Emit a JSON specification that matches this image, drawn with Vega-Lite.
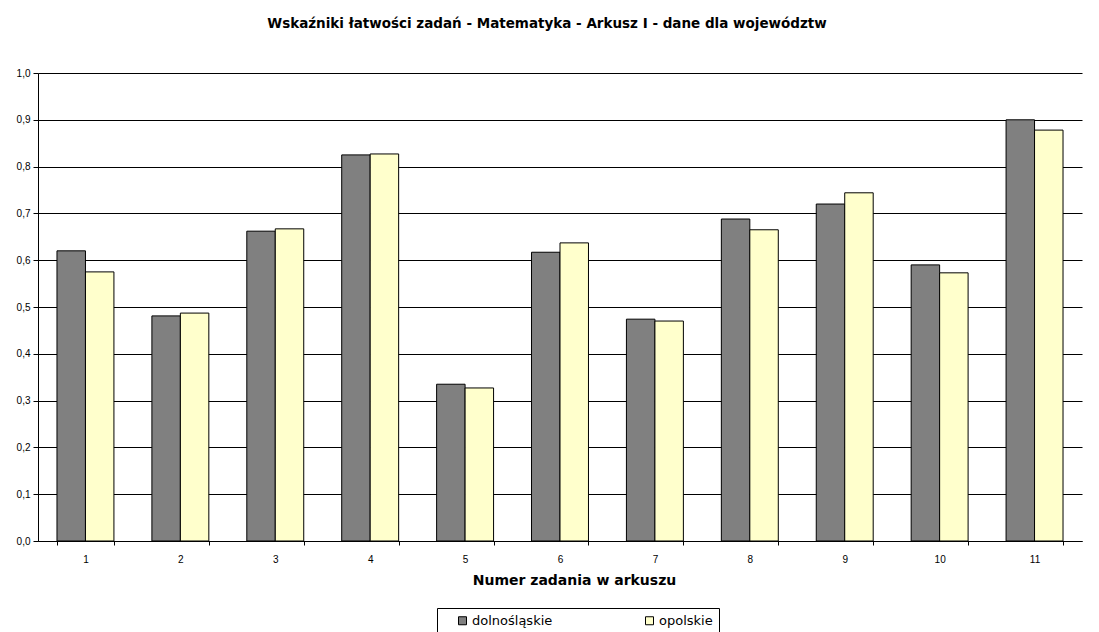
{
  "$schema": "https://vega.github.io/schema/vega-lite/v6.json",
  "autosize": {"type": "none"},
  "padding": {"left": 38, "top": 73, "right": 17, "bottom": 91},
  "width": 1044,
  "height": 468,
  "background": "white",
  "title": {
    "text": "Wskaźniki łatwości zadań - Matematyka - Arkusz I - dane dla województw",
    "font": "DejaVu Sans",
    "fontSize": 13.5,
    "fontWeight": "bold",
    "color": "black",
    "anchor": "middle",
    "dx": -13,
    "offset": 38
  },
  "data": {
    "values": [
      {"zadanie": "1", "woj": "dolnośląskie", "v": 0.620},
      {"zadanie": "1", "woj": "opolskie", "v": 0.575},
      {"zadanie": "2", "woj": "dolnośląskie", "v": 0.481},
      {"zadanie": "2", "woj": "opolskie", "v": 0.487},
      {"zadanie": "3", "woj": "dolnośląskie", "v": 0.662},
      {"zadanie": "3", "woj": "opolskie", "v": 0.667},
      {"zadanie": "4", "woj": "dolnośląskie", "v": 0.825},
      {"zadanie": "4", "woj": "opolskie", "v": 0.827},
      {"zadanie": "5", "woj": "dolnośląskie", "v": 0.335},
      {"zadanie": "5", "woj": "opolskie", "v": 0.327},
      {"zadanie": "6", "woj": "dolnośląskie", "v": 0.617},
      {"zadanie": "6", "woj": "opolskie", "v": 0.637},
      {"zadanie": "7", "woj": "dolnośląskie", "v": 0.474},
      {"zadanie": "7", "woj": "opolskie", "v": 0.470},
      {"zadanie": "8", "woj": "dolnośląskie", "v": 0.688},
      {"zadanie": "8", "woj": "opolskie", "v": 0.665},
      {"zadanie": "9", "woj": "dolnośląskie", "v": 0.720},
      {"zadanie": "9", "woj": "opolskie", "v": 0.744},
      {"zadanie": "10", "woj": "dolnośląskie", "v": 0.590},
      {"zadanie": "10", "woj": "opolskie", "v": 0.573},
      {"zadanie": "11", "woj": "dolnośląskie", "v": 0.900},
      {"zadanie": "11", "woj": "opolskie", "v": 0.878}
    ]
  },
  "mark": {"type": "bar", "stroke": "black", "strokeWidth": 1},
  "encoding": {
    "x": {
      "field": "zadanie",
      "type": "ordinal",
      "sort": ["1","2","3","4","5","6","7","8","9","10","11"],
      "scale": {"paddingInner": 0.4, "paddingOuter": 0.2},
      "axis": {
        "title": "Numer zadania w arkuszu",
        "titleFont": "DejaVu Sans",
        "titleFontSize": 14,
        "titleFontWeight": "bold",
        "titleColor": "black",
        "titlePadding": 9,
        "titleX": 536,
        "titleAlign": "center",
        "labelAngle": 0,
        "labelFont": "Liberation Sans",
        "labelFontSize": 10,
        "labelColor": "black",
        "labelPadding": 9,
        "tickBand": "extent",
        "tickColor": "black",
        "tickSize": 4,
        "domainColor": "black",
        "grid": false
      }
    },
    "xOffset": {"field": "woj", "type": "nominal", "sort": ["dolnośląskie", "opolskie"]},
    "y": {
      "field": "v",
      "type": "quantitative",
      "scale": {"domain": [0, 1], "nice": false},
      "axis": {
        "title": null,
        "values": [0, 0.1, 0.2, 0.3, 0.4, 0.5, 0.6, 0.7, 0.8, 0.9, 1.0],
        "labelExpr": "replace(format(datum.value, '.1f'), '.', ',')",
        "labelFont": "Liberation Sans",
        "labelFontSize": 10,
        "labelColor": "black",
        "labelPadding": 3,
        "tickColor": "black",
        "tickSize": 5,
        "domainColor": "black",
        "grid": true,
        "gridColor": "black",
        "gridOpacity": 1,
        "gridWidth": 1
      }
    },
    "color": {
      "field": "woj",
      "type": "nominal",
      "sort": ["dolnośląskie", "opolskie"],
      "scale": {"domain": ["dolnośląskie", "opolskie"], "range": ["#808080", "#FFFFCC"]},
      "legend": {
        "title": null,
        "orient": "none",
        "legendX": 399,
        "legendY": 535,
        "direction": "horizontal",
        "columns": 2,
        "columnPadding": 77,
        "symbolOffset": 13,
        "symbolType": "square",
        "symbolSize": 64,
        "symbolStrokeColor": "black",
        "symbolStrokeWidth": 1,
        "labelFont": "DejaVu Sans",
        "labelFontSize": 13,
        "labelColor": "black",
        "labelOffset": 3,
        "strokeColor": "black",
        "fillColor": "white",
        "padding": 6
      }
    }
  },
  "config": {"view": {"stroke": null}}
}
